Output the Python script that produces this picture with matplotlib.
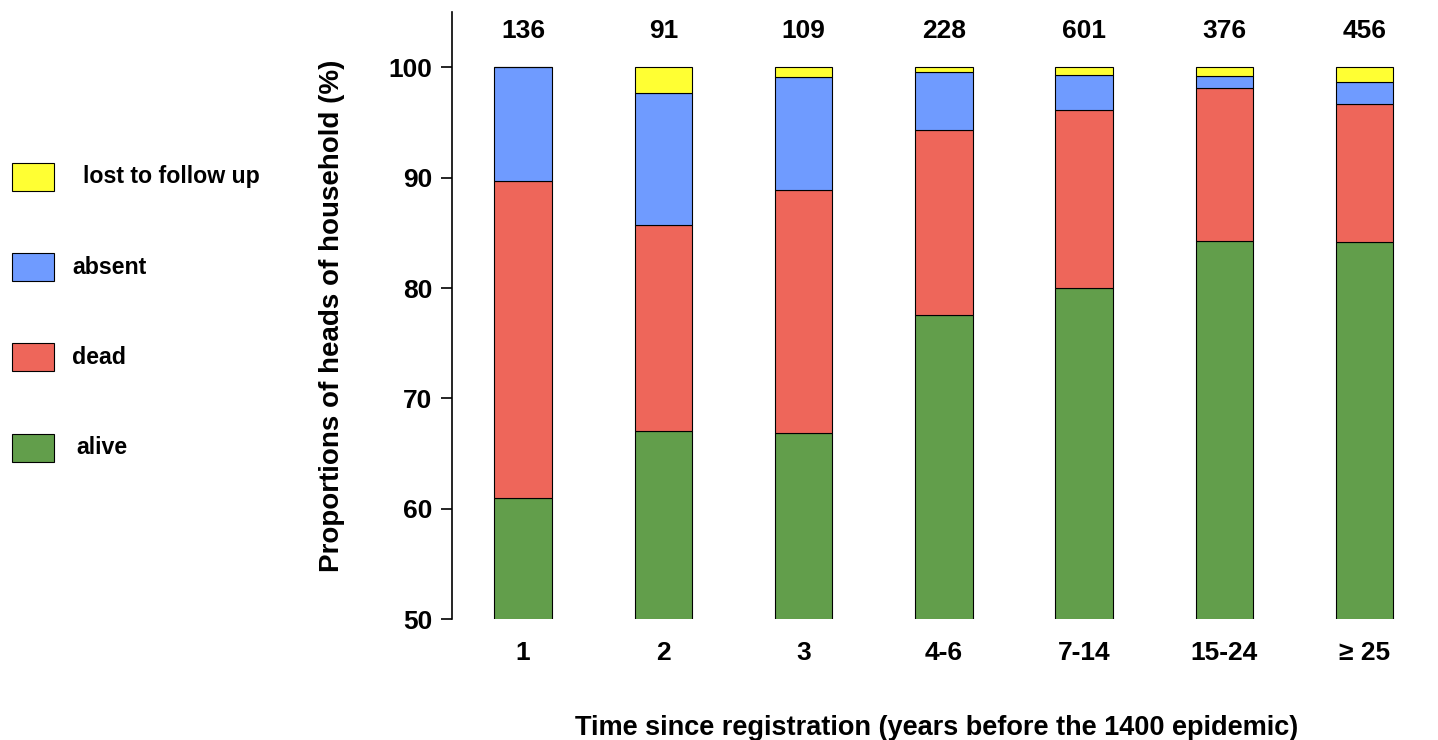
import numpy as np
import matplotlib.pyplot as plt
from matplotlib.patches import Rectangle

plt.rcParams['font.family'] = ['Liberation Sans', 'DejaVu Sans']

# Data
groups = ['1', '2', '3', '4-6', '7-14', '15-24', '≥ 25']
counts = [136, 91, 109, 228, 601, 376, 456]
alive = [61.0, 67.0, 66.9, 77.6, 80.0, 84.3, 84.2]
dead = [28.7, 18.7, 22.0, 16.7, 16.1, 13.8, 12.5]
absent = [10.3, 12.0, 10.2, 5.3, 3.2, 1.1, 2.0]
lost = [0.0, 2.3, 0.9, 0.4, 0.7, 0.8, 1.3]

series = [('alive', alive, '#629e4b'), ('dead', dead, '#ee665a'),
          ('absent', absent, '#6f9bff'), ('lost to follow up', lost, '#ffff33')]

fig = plt.figure(figsize=(14.38, 7.40), dpi=100)
ax = fig.add_axes([0.314, 0.1635, 0.674, 0.82])

x = np.arange(len(groups))
bottom = np.zeros(len(groups))
for name, vals, col in series:
    vals = np.array(vals)
    ax.bar(x, vals, 0.41, bottom=bottom, color=col, edgecolor='black', linewidth=0.8, zorder=2)
    bottom += vals

# group sizes above bars
for xi, c in zip(x, counts):
    ax.text(xi, 103.3, str(c), ha='center', va='center', fontsize=19, fontweight='bold')

ax.set_ylim(50, 105)
ax.set_xlim(-0.51, 6.4)
ax.set_xticks(x)
ax.set_xticklabels(groups, fontsize=19, fontweight='bold')
ax.set_yticks([50, 60, 70, 80, 90, 100])
ax.set_yticklabels(['50', '60', '70', '80', '90', '100'], fontsize=19, fontweight='bold')
ax.tick_params(axis='x', length=0, pad=16)
ax.tick_params(axis='y', direction='out', length=8, width=1.2, pad=6)
for s in ['top', 'right', 'bottom']:
    ax.spines[s].set_visible(False)
ax.spines['left'].set_linewidth(1.2)
ax.set_ylabel('Proportions of heads of household (%)', fontsize=20, fontweight='bold', labelpad=31)
ax.set_xlabel('Time since registration (years before the 1400 epidemic)', fontsize=19.5,
              fontweight='bold', labelpad=36)

# manual legend on the left
leg = [('lost to follow up', '#ffff33', 177, 83), ('absent', '#6f9bff', 267, 72),
       ('dead', '#ee665a', 357, 72), ('alive', '#629e4b', 448, 76)]
for label, col, ypix, xt in leg:
    fig.add_artist(Rectangle((12 / 1438, 1 - (ypix + 14) / 740), 42 / 1438, 28 / 740,
                             transform=fig.transFigure, facecolor=col, edgecolor='black', linewidth=0.8))
    fig.text(xt / 1438, 1 - ypix / 740, label, fontsize=16.7, fontweight='bold', va='center')

fig.savefig('out.png', dpi=100)
